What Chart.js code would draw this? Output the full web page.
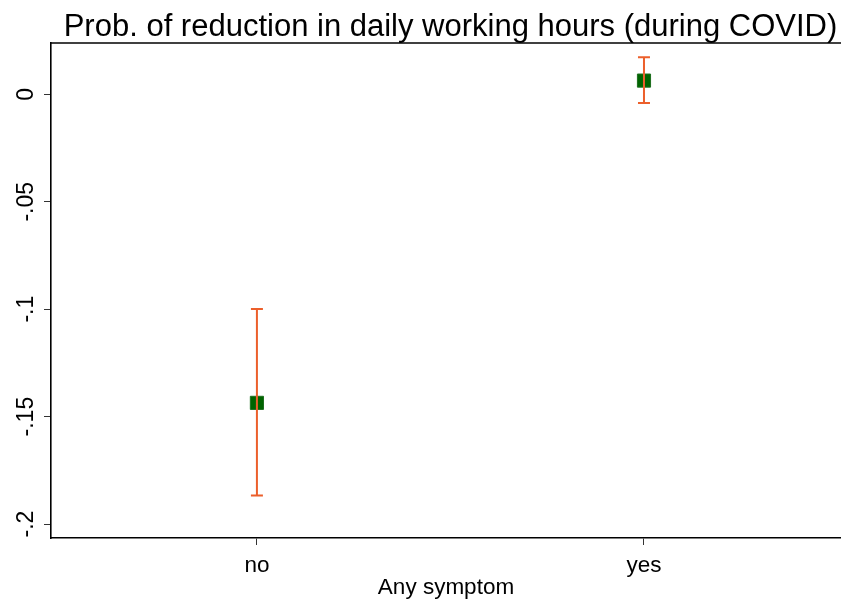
<!DOCTYPE html>
<html>
<head>
<meta charset="utf-8">
<script src="https://cdn.jsdelivr.net/npm/chart.js@4/dist/chart.umd.min.js"></script>
<style>
  html, body { margin: 0; padding: 0; background: #ffffff; overflow: hidden; }
  #wrap { width: 841px; height: 601px; position: relative; }
  canvas { display: block; }
</style>
</head>
<body>
<div id="wrap"><canvas id="c" width="841" height="601"></canvas></div>
<script>
// Marginal effects with 95% confidence intervals
const titleText = 'Prob. of reduction in daily working hours (during COVID)';
const xAxisTitle = 'Any symptom';
const categories = ['no', 'yes'];
const estimates = [-0.1436, 0.0064];
const ciLower = [-0.1867, -0.0040];
const ciUpper = [-0.0999, 0.0173];
const yTickValues = [0, -0.05, -0.1, -0.15, -0.2];
const yTickLabels = ['0', '-.05', '-.1', '-.15', '-.2'];

const FONT = "'Liberation Sans', Arial, sans-serif";
const CI_COLOR = '#ec5f2b';
const MARKER_FILL = '#006400';
const MARKER_EDGE = '#1d6f1d';

const points = categories.map((c, i) => ({ x: i, y: estimates[i] }));

// Draws the confidence interval whiskers with caps
const ciPlugin = {
  id: 'ciBars',
  afterDatasetsDraw(chart) {
    const { ctx, scales: { x, y } } = chart;
    ctx.save();
    ctx.strokeStyle = CI_COLOR;
    ctx.lineWidth = 2;
    const cap = 6;
    categories.forEach((c, i) => {
      const px = x.getPixelForValue(i);
      const top = y.getPixelForValue(ciUpper[i]);
      const bot = y.getPixelForValue(ciLower[i]);
      ctx.beginPath();
      ctx.moveTo(px, top); ctx.lineTo(px, bot);
      ctx.moveTo(px - cap, top); ctx.lineTo(px + cap, top);
      ctx.moveTo(px - cap, bot); ctx.lineTo(px + cap, bot);
      ctx.stroke();
    });
    ctx.restore();
  }
};

// Top frame line and the chart heading
const framePlugin = {
  id: 'frameAndTitle',
  afterDraw(chart) {
    const { ctx, chartArea } = chart;
    ctx.save();
    ctx.strokeStyle = '#000';
    ctx.lineWidth = 1.6;
    ctx.beginPath();
    ctx.moveTo(chartArea.left, chartArea.top);
    ctx.lineTo(chartArea.right, chartArea.top);
    ctx.stroke();
    ctx.fillStyle = '#000';
    ctx.font = '31px ' + FONT;
    ctx.textAlign = 'center';
    ctx.textBaseline = 'alphabetic';
    ctx.fillText(titleText, 450.5, 36);
    ctx.restore();
  }
};

new Chart(document.getElementById('c'), {
  type: 'scatter',
  data: {
    datasets: [{
      data: points,
      pointStyle: 'rect',
      pointRadius: 9.3,
      pointHoverRadius: 9.3,
      pointBackgroundColor: MARKER_FILL,
      pointBorderColor: MARKER_EDGE,
      pointBorderWidth: 1,
      clip: false
    }]
  },
  options: {
    responsive: false,
    animation: false,
    layout: { autoPadding: false, padding: { top: 43, left: 0, right: 0, bottom: 0 } },
    plugins: { legend: { display: false }, tooltip: { enabled: false }, title: { display: false } },
    scales: {
      x: {
        type: 'linear',
        min: -0.532,
        max: 1.509,
        afterFit(scale) {
          scale.height = 63;
          scale.paddingLeft = 0;
          scale.paddingRight = 0;
        },
        afterBuildTicks(scale) { scale.ticks = categories.map((c, i) => ({ value: i })); },
        border: { display: true, color: '#000', width: 1.6 },
        grid: { display: true, drawOnChartArea: false, drawTicks: true, tickLength: 7, color: '#333', lineWidth: 1 },
        ticks: {
          font: { family: FONT, size: 22.5 },
          color: '#000',
          padding: 7,
          maxRotation: 0,
          callback: (v) => categories[v] !== undefined ? categories[v] : ''
        },
        title: {
          display: true,
          text: xAxisTitle,
          font: { family: FONT, size: 22.5 },
          color: '#000',
          padding: { top: 0, bottom: 0 }
        }
      },
      y: {
        min: -0.2065,
        max: 0.0239,
        afterFit(scale) {
          scale.width = 51;
          scale.paddingTop = 0;
          scale.paddingBottom = 0;
        },
        afterBuildTicks(scale) { scale.ticks = yTickValues.map(v => ({ value: v })); },
        border: { display: true, color: '#000', width: 1.6 },
        grid: { display: true, drawOnChartArea: false, drawTicks: true, tickLength: 7, color: '#333', lineWidth: 1 },
        ticks: {
          font: { family: FONT, size: 23 },
          color: '#000',
          minRotation: 90,
          maxRotation: 90,
          crossAlign: 'center',
          padding: -2,
          callback: (v) => {
            const i = yTickValues.findIndex(t => Math.abs(t - v) < 1e-9);
            return i >= 0 ? yTickLabels[i] : '';
          }
        }
      }
    }
  },
  plugins: [ciPlugin, framePlugin]
});
</script>
</body>
</html>
